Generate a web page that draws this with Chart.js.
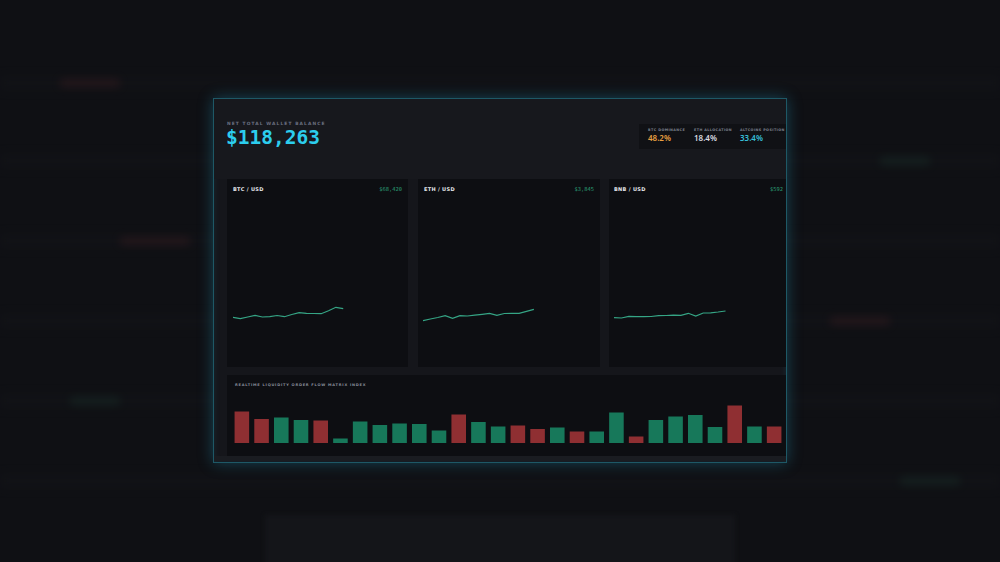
<!DOCTYPE html>
<html>
<head>
<meta charset="utf-8">
<script src="https://cdn.jsdelivr.net/npm/chart.js@4.4.1/dist/chart.umd.min.js"></script>
<style>
  html, body { margin: 0; padding: 0; }
  body {
    width: 1000px; height: 562px; overflow: hidden; position: relative;
    background: #0f1014; font-family: "DejaVu Sans", sans-serif;
  }
  .bg-row { position: absolute; left: 0; width: 1000px; height: 14px; filter: blur(5px); opacity: 0.5; }
  .bg-blob { position: absolute; height: 8px; border-radius: 3px; filter: blur(4px); opacity: 0.35; }
  .abs { position: absolute; }
  #main {
    left: 213px; top: 98px; width: 572px; height: 363px;
    background: #15161b; border: 1px solid #1e5866;
    box-shadow: 0 0 14px rgba(40, 170, 210, 0.35), inset 0 0 6px rgba(40, 170, 210, 0.12);
  }
  #header { left: 214px; top: 99px; width: 572px; height: 80px; background: #17181d; }
  .panel { background: #0d0e12; }
  .tiny { color: #6b7080; font-size: 4.4px; letter-spacing: 1.1px; white-space: nowrap; font-weight: bold; }
  .title { color: #e6e8ec; font-size: 5px; font-weight: bold; letter-spacing: 0.3px; white-space: nowrap; }
  .price { color: #2a9c72; font-family: "DejaVu Sans Mono", monospace; font-size: 5.4px; white-space: nowrap; }
  .stat { font-family: "Noto Sans", sans-serif; font-weight: 600; font-size: 8px; white-space: nowrap; }
  .chartbox { position: absolute; }
</style>
</head>
<body>
<!-- defocused background dashboard -->
<div class="bg-row" style="top:76px;background:#141519"></div>
<div class="bg-row" style="top:154px;background:#141519"></div>
<div class="bg-row" style="top:234px;background:#141519"></div>
<div class="bg-row" style="top:314px;background:#141519"></div>
<div class="bg-row" style="top:394px;background:#141519"></div>
<div class="bg-row" style="top:474px;background:#141519"></div>
<div class="bg-blob" style="left:60px;top:79px;width:60px;background:#4a2226"></div>
<div class="bg-blob" style="left:880px;top:157px;width:50px;background:#1d3d31"></div>
<div class="bg-blob" style="left:120px;top:237px;width:70px;background:#4a2226"></div>
<div class="bg-blob" style="left:830px;top:317px;width:60px;background:#4a2226"></div>
<div class="bg-blob" style="left:70px;top:397px;width:50px;background:#1d3d31"></div>
<div class="bg-blob" style="left:900px;top:477px;width:60px;background:#1d3d31"></div>
<div class="abs" style="left:265px;top:515px;width:470px;height:60px;background:#141519;filter:blur(2px)"></div>

<div id="main" class="abs"></div>
<div id="header" class="abs"></div>

<div class="abs tiny" style="left:227px;top:121px">NET TOTAL WALLET BALANCE</div>
<div class="abs" id="balance" style="left:226px;top:126px;color:#2ccdee;font-family:'DejaVu Sans Mono',monospace;font-weight:bold;font-size:19.5px;white-space:nowrap"></div>

<div class="abs" style="left:639px;top:124px;width:147px;height:25px;background:#101115"></div>
<div id="stats"></div>

<div class="abs panel" style="left:227px;top:179px;width:181px;height:188px"></div>
<div class="abs panel" style="left:418px;top:179px;width:182px;height:188px"></div>
<div class="abs panel" style="left:609px;top:179px;width:177px;height:188px"></div>
<div class="abs panel" style="left:227px;top:375px;width:559px;height:81px"></div>
<div class="abs" style="left:214px;top:456px;width:572px;height:5px;background:#1a1c21"></div>

<div class="abs tiny" style="left:235px;top:383px;font-size:3.6px;letter-spacing:0.75px;color:#8a8f9c">REALTIME LIQUIDITY ORDER FLOW MATRIX INDEX</div>

<div id="pairs"></div>

<div class="chartbox" style="left:233px;top:200px;width:169px;height:162px"><canvas id="c0"></canvas></div>
<div class="chartbox" style="left:423px;top:200px;width:170px;height:162px"><canvas id="c1"></canvas></div>
<div class="chartbox" style="left:614px;top:200px;width:171px;height:162px"><canvas id="c2"></canvas></div>
<div class="chartbox" style="left:232px;top:393px;width:552px;height:50px"><canvas id="cb"></canvas></div>

<script>
// header values
const totalBalance = '$118,263';
const statLabels = ['BTC DOMINANCE', 'ETH ALLOCATION', 'ALTCOINS POSITION'];
const statValues = ['48.2%', '18.4%', '33.4%'];
const statColors = ['#e9a042', '#d9dbe0', '#36bfd8'];

// price panels
const pairNames = ['BTC / USD', 'ETH / USD', 'BNB / USD'];
const pairPrices = ['$68,420', '$3,845', '$592'];
const hours = ['00', '01', '02', '03', '04', '05', '06', '07', '08', '09', '10', '11',
               '12', '13', '14', '15', '16', '17', '18', '19', '20', '21', '22', '23'];
const btcPrices = [67130, 66920, 67175, 67430, 67175, 67220, 67400, 67220,
                   67550, 67820, 67730, 67700, 67670, 68120, 68630, 68420];
const ethPrices = [3731, 3748, 3763, 3781, 3755, 3781, 3778, 3786,
                   3795, 3805, 3785, 3803, 3805, 3805, 3825, 3845];
const bnbPrices = [585.3, 585.0, 586.7, 586.3, 586.3, 586.5, 587.3, 587.5,
                   587.8, 587.7, 589.7, 587.0, 590.0, 590.2, 591.0, 592.0];
const priceMin = [60425, 3318, 541];
const priceMax = [84725, 4938, 703];

// order flow matrix
const flowIndex = [63, 48, 51, 46, 45, 9, 43, 36, 39, 38, 25, 57, 42, 33,
                   35, 28, 31, 23, 23, 61, 13, 46, 53, 56, 32, 75, 33, 33];
const flowSide = ['S', 'S', 'B', 'B', 'S', 'B', 'B', 'B', 'B', 'B', 'B', 'S', 'B', 'B',
                  'S', 'S', 'B', 'S', 'B', 'B', 'S', 'B', 'B', 'B', 'B', 'S', 'B', 'S'];

document.getElementById('balance').innerText = totalBalance;

// stats box
const statX = [648, 694, 740];
const stats = document.getElementById('stats');
statLabels.forEach((label, i) => {
    const l = document.createElement('div');
    l.className = 'abs tiny';
    l.style.cssText = `left:${statX[i]}px;top:128px;font-size:3.4px;letter-spacing:0.4px;color:#7b808c`;
    l.innerText = label;
    stats.appendChild(l);
    const v = document.createElement('div');
    v.className = 'abs stat';
    v.style.cssText = `left:${statX[i]}px;top:132px;color:${statColors[i]}`;
    v.innerText = statValues[i];
    stats.appendChild(v);
});

// panel titles
const titleX = [233, 424, 614];
const priceRight = [408 - 6, 600 - 6, 786 - 3];
const pairs = document.getElementById('pairs');
pairNames.forEach((name, i) => {
    const t = document.createElement('div');
    t.className = 'abs title';
    t.style.cssText = `left:${titleX[i]}px;top:185.5px`;
    t.innerText = name;
    pairs.appendChild(t);
    const p = document.createElement('div');
    p.className = 'abs price';
    p.style.cssText = `right:${1000 - priceRight[i]}px;top:185.5px`;
    p.innerText = pairPrices[i];
    pairs.appendChild(p);
});

function lineChart(id, values, i) {
    return new Chart(document.getElementById(id), {
        type: 'line',
        data: {
            labels: hours,
            datasets: [{
                data: values,
                borderColor: '#35a585',
                borderWidth: 1.2,
                pointRadius: 0,
                tension: 0,
                fill: false
            }]
        },
        options: {
            responsive: true,
            maintainAspectRatio: false,
            animation: false,
            layout: { padding: 0, autoPadding: false },
            plugins: { legend: { display: false }, tooltip: { enabled: false } },
            scales: {
                x: { display: false, offset: false },
                y: { display: false, min: priceMin[i], max: priceMax[i] }
            }
        }
    });
}

lineChart('c0', btcPrices, 0);
lineChart('c1', ethPrices, 1);
lineChart('c2', bnbPrices, 2);

new Chart(document.getElementById('cb'), {
    type: 'bar',
    data: {
        labels: flowIndex.map((_, i) => i + 1),
        datasets: [{
            data: flowIndex,
            backgroundColor: flowSide.map(s => s === 'S' ? '#8f2f32' : '#17785a'),
            borderWidth: 0,
            barPercentage: 0.74,
            categoryPercentage: 1
        }]
    },
    options: {
        responsive: true,
        maintainAspectRatio: false,
        animation: false,
        layout: { padding: 0, autoPadding: false },
        plugins: { legend: { display: false }, tooltip: { enabled: false } },
        scales: {
            x: { display: false },
            y: { display: false, min: 0, max: 100 }
        }
    }
});
</script>
</body>
</html>
